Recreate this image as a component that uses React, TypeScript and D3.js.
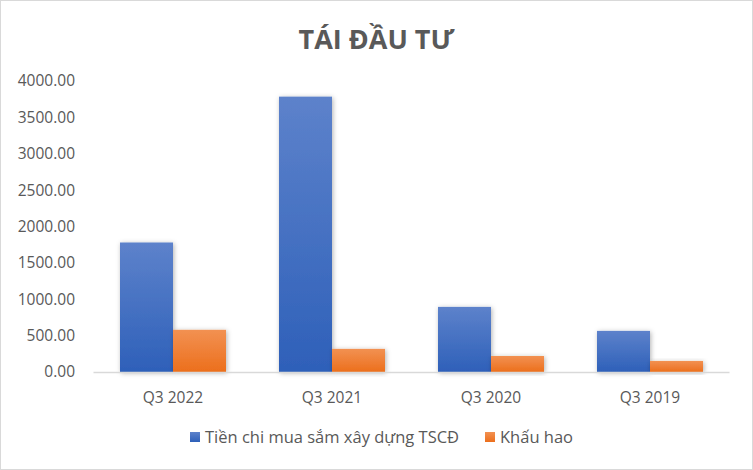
import * as d3 from 'd3';
import { useEffect, useRef } from 'react';

const categories = ['Q3 2022', 'Q3 2021', 'Q3 2020', 'Q3 2019'];
const investValues = [1780, 3785, 895, 565];
const depreciationValues = [580, 318, 220, 152];
const seriesNames = ['Tiền chi mua sắm xây dựng TSCĐ', 'Khấu hao'];
const yTicks = [0, 500, 1000, 1500, 2000, 2500, 3000, 3500, 4000];

const W = 753;
const H = 470;
const FONT = "'Open Sans', 'Liberation Sans', sans-serif";

export default function App() {
  const svgRef = useRef<SVGSVGElement | null>(null);

  useEffect(() => {
    const svg = d3.select(svgRef.current);
    svg.selectAll('*').remove();

    const margin = { top: 81, left: 93.5, right: 23.5, bottom: 98 };
    const x = d3
      .scaleBand<string>()
      .domain(categories)
      .range([margin.left, W - margin.right])
      .paddingInner(1 / 3)
      .paddingOuter(1 / 6);
    const sub = d3.scaleBand<number>().domain([0, 1]).range([0, x.bandwidth()]);
    const y = d3.scaleLinear().domain([0, 4000]).range([H - margin.bottom, margin.top]);

    const defs = svg.append('defs');
    const grads = [
      { id: 'gBlue', top: '#5d82cb', bottom: '#2e60b9' },
      { id: 'gOrange', top: '#f29152', bottom: '#ec6f1c' },
    ];
    grads.forEach((g) => {
      const lg = defs.append('linearGradient').attr('id', g.id).attr('x1', 0).attr('y1', 0).attr('x2', 0).attr('y2', 1);
      lg.append('stop').attr('offset', '0%').attr('stop-color', g.top);
      lg.append('stop').attr('offset', '100%').attr('stop-color', g.bottom);
    });
    defs
      .append('filter')
      .attr('id', 'shadow')
      .attr('x', '-20%')
      .attr('y', '-20%')
      .attr('width', '140%')
      .attr('height', '140%')
      .append('feDropShadow')
      .attr('dx', 1)
      .attr('dy', 1)
      .attr('stdDeviation', 2.5)
      .attr('flood-color', '#000')
      .attr('flood-opacity', 0.3);

    svg
      .append('rect')
      .attr('x', 0.5)
      .attr('y', 0.5)
      .attr('width', W - 1)
      .attr('height', H - 1)
      .attr('fill', '#fff')
      .attr('stroke', '#d9d9d9');

    svg
      .append('text')
      .attr('x', W / 2)
      .attr('y', 49)
      .attr('text-anchor', 'middle')
      .attr('font-family', FONT)
      .attr('font-size', 27)
      .attr('font-weight', 'bold')
      .attr('fill', '#595959')
      .text('TÁI ĐẦU TƯ');

    svg
      .append('g')
      .selectAll('text')
      .data(yTicks)
      .join('text')
      .attr('x', 75)
      .attr('y', (d) => y(d))
      .attr('dy', '0.35em')
      .attr('text-anchor', 'end')
      .attr('font-family', FONT)
      .attr('font-size', 15.5)
      .attr('fill', '#595959')
      .text((d) => d.toFixed(2));

    const series = [investValues, depreciationValues];
    series.forEach((vals, si) => {
      svg
        .append('g')
        .selectAll('rect')
        .data(vals)
        .join('rect')
        .attr('x', (_, i) => (x(categories[i]) ?? 0) + (sub(si) ?? 0))
        .attr('y', (d) => y(d))
        .attr('width', sub.bandwidth())
        .attr('height', (d) => y(0) - y(d))
        .attr('fill', `url(#${grads[si].id})`)
        .attr('filter', 'url(#shadow)');
    });

    svg
      .append('line')
      .attr('x1', margin.left)
      .attr('x2', W - margin.right)
      .attr('y1', y(0) + 0.5)
      .attr('y2', y(0) + 0.5)
      .attr('stroke', '#d9d9d9')
      .attr('stroke-width', 1.5);

    svg
      .append('g')
      .selectAll('text')
      .data(categories)
      .join('text')
      .attr('x', (d) => (x(d) ?? 0) + x.bandwidth() / 2)
      .attr('y', 398)
      .attr('dy', '0.35em')
      .attr('text-anchor', 'middle')
      .attr('font-family', FONT)
      .attr('font-size', 15.5)
      .attr('fill', '#595959')
      .text((d) => d);

    const legendX = [190, 485];
    seriesNames.forEach((name, i) => {
      const g = svg.append('g').attr('transform', `translate(${legendX[i]},437)`);
      g.append('rect')
        .attr('x', 0)
        .attr('y', -5)
        .attr('width', 10)
        .attr('height', 10)
        .attr('fill', `url(#${grads[i].id})`);
      g.append('text')
        .attr('x', 15)
        .attr('y', 0)
        .attr('dy', '0.35em')
        .attr('font-family', FONT)
        .attr('font-size', 16.5)
        .attr('fill', '#595959')
        .text(name);
    });
  }, []);

  return <svg ref={svgRef} width={W} height={H} style={{ display: 'block', position: 'absolute', left: 0, top: 0 }} />;
}
